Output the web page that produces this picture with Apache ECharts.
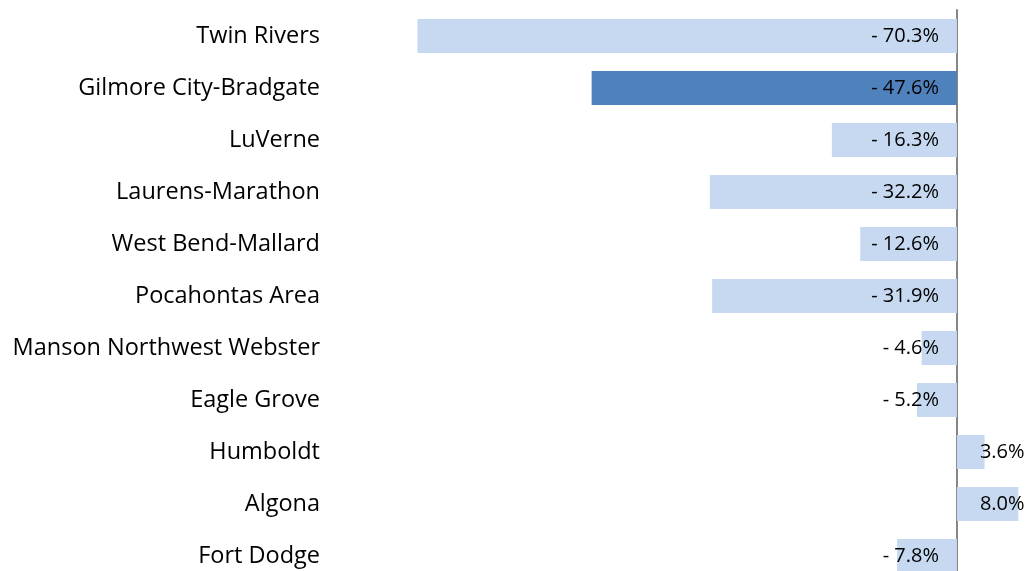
<!DOCTYPE html>
<html>
<head>
<meta charset="utf-8">
<script src="https://cdn.jsdelivr.net/npm/echarts@6/dist/echarts.min.js"></script>
<style>html,body{margin:0;padding:0;background:#fff;overflow:hidden}#c{width:1026px;height:582px}</style>
</head>
<body>
<div id="c"></div>
<script>
const categories = ["Twin Rivers","Gilmore City-Bradgate","LuVerne","Laurens-Marathon","West Bend-Mallard","Pocahontas Area","Manson Northwest Webster","Eagle Grove","Humboldt","Algona","Fort Dodge"];
const values = [-70.3,-47.6,-16.3,-32.2,-12.6,-31.9,-4.6,-5.2,3.6,8.0,-7.8];
const highlighted = "Gilmore City-Bradgate";

const LIGHT = '#C6D9F1', DARK = '#4F81BD';
const FONT = 'Open Sans';

const chart = echarts.init(document.getElementById('c'), null, {renderer:'canvas'});
const data = values.map((v,i)=>({
  value: v,
  itemStyle: {color: categories[i]===highlighted ? DARK : LIGHT},
  label: {position: v<0 ? 'insideRight' : 'insideLeft', distance: v<0 ? 18 : 23}
}));
chart.setOption({
  animation:false,
  grid:{left:343, top:10, right:-2, bottom:0, containLabel:false},
  xAxis:{type:'value', min:-80, max:9, show:false, splitLine:{show:false}},
  yAxis:{type:'category', data:categories, inverse:true,
    axisTick:{show:false},
    axisLine:{show:true, onZero:true, lineStyle:{color:'#868686', width:2}},
    axisLabel:{color:'#000', fontFamily:FONT, fontSize:23.5, margin:23}
  },
  series:[{type:'bar', data:data, barWidth:34,
    label:{show:true, color:'#000', fontFamily:FONT, fontSize:20,
      formatter:p=> p.value<0 ? '- ' + Math.abs(p.value).toFixed(1) + '%' : p.value.toFixed(1)+'%'}
  }]
});
</script>
</body>
</html>
